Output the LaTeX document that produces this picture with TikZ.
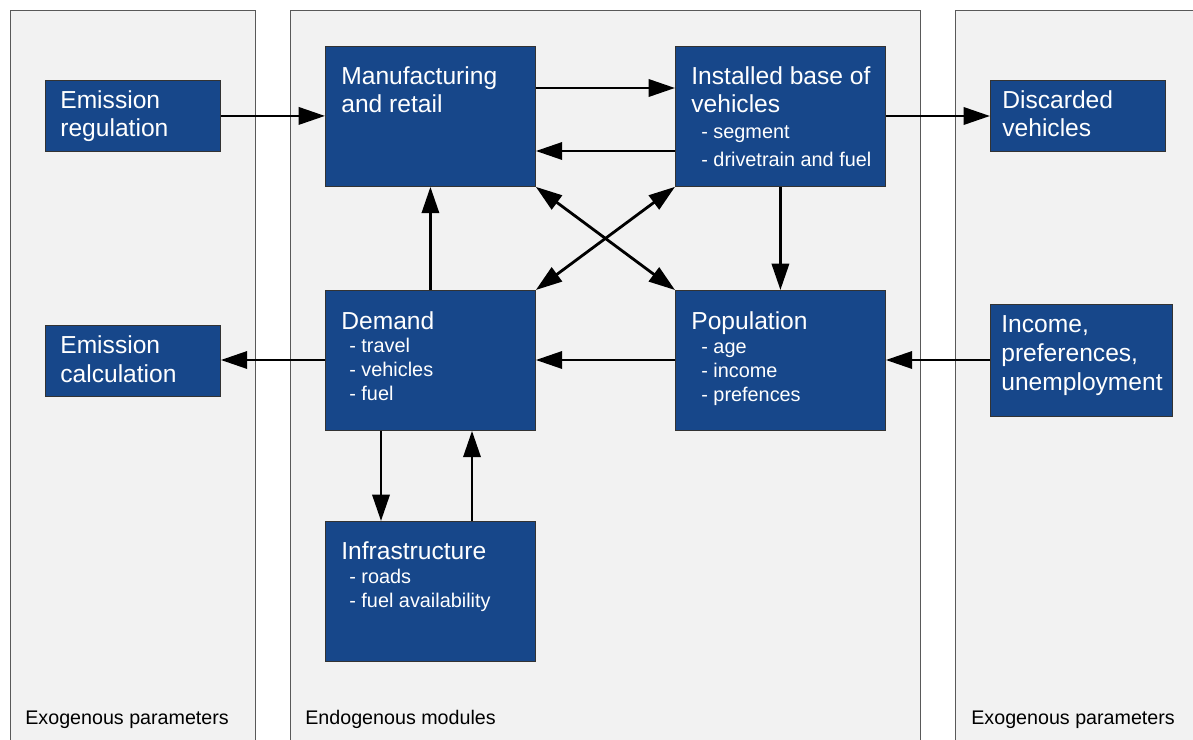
\documentclass[tikz,border=0pt]{standalone}
\usepackage{fontspec}
\setmainfont{Liberation Sans}
\usetikzlibrary{arrows.meta}
\definecolor{moduleBlue}{HTML}{17478A}
\definecolor{panelGray}{HTML}{F2F2F2}
\tikzset{
  panel/.style={draw=black!65, fill=panelGray, line width=0.5pt},
  module/.style={draw=black!80, fill=moduleBlue, anchor=north west, inner sep=0pt, line width=0.5pt},
  title/.style={anchor=base west, inner sep=0pt, yshift=-0.04cm, align=left, text=white, font=\fontsize{14}{16.4}\selectfont},
  items/.style={anchor=base west, inner sep=0pt, yshift=-0.04cm, align=left, text=white, font=\fontsize{11.3}{13.4}\selectfont},
  caption/.style={anchor=base west, inner sep=0pt, font=\fontsize{11.2}{13}\selectfont},
  flow/.style={line width=1.6pt, -{Triangle[length=15pt,width=9.8pt]}},
  both/.style={line width=1.6pt, {Triangle[length=15pt,width=9.8pt]}-{Triangle[length=15pt,width=9.8pt]}}
}

\begin{document}
\begin{tikzpicture}[x=0.02cm,y=-0.02cm]
\useasboundingbox (0,0) rectangle (1193,740);

% the three columns
\draw[panel] (10,10) rectangle (255,760);
\draw[panel] (290,10) rectangle (920,760);
\draw[panel] (955,10) rectangle (1210,760);
\node[caption] (exoLeft)  at (25,724)  {Exogenous parameters};
\node[caption] (endo)     at (305,724) {Endogenous modules};
\node[caption] (exoRight) at (971,724) {Exogenous parameters};

% module boxes
\node[module, minimum width=3.5cm, minimum height=1.42cm] (emissionRegulation)  at (45,80)   {};
\node[module, minimum width=3.5cm, minimum height=1.42cm] (emissionCalculation) at (45,325)  {};
\node[module, minimum width=4.2cm, minimum height=2.8cm]  (manufacturing)       at (325,46)  {};
\node[module, minimum width=4.2cm, minimum height=2.8cm]  (installedBase)       at (675,46)  {};
\node[module, minimum width=4.2cm, minimum height=2.8cm]  (demand)              at (325,290) {};
\node[module, minimum width=4.2cm, minimum height=2.8cm]  (population)          at (675,290) {};
\node[module, minimum width=4.2cm, minimum height=2.8cm]  (infrastructure)      at (325,521) {};
\node[module, minimum width=3.5cm, minimum height=1.42cm] (discarded)           at (990,80)  {};
\node[module, minimum width=3.64cm, minimum height=2.24cm] (income)             at (990,304) {};

% box texts (placed at the baseline of their last line)
\node[title] (emissionRegulationText)  at (60,135)   {Emission\\regulation};
\node[title] (emissionCalculationText) at (60,380)   {Emission\\calculation};
\node[title] (manufacturingText)       at (341,111)  {Manufacturing\\and retail};
\node[title] (installedBaseText)       at (691,111)  {Installed base of\\vehicles};
\node[items, font=\fontsize{11.3}{15.9}\selectfont] (installedBaseList) at (701,164) {- segment\\- drivetrain and fuel};
\node[title] (demandText)              at (341,327)  {Demand};
\node[items] (demandList)              at (349,398)  {- travel\\- vehicles\\- fuel};
\node[title] (populationText)          at (691,327)  {Population};
\node[items] (populationList)          at (701,399)  {- age\\- income\\- prefences};
\node[title] (infrastructureText)      at (341,557)  {Infrastructure};
\node[items] (infrastructureList)      at (349,605)  {- roads\\- fuel availability};
\node[title] (discardedText)           at (1002,135) {Discarded\\vehicles};
\node[title] (incomeText)              at (1001,388) {Income,\\preferences,\\unemployment};

% connectors
\draw[flow] (emissionRegulation.east) -- (emissionRegulation.east -| manufacturing.west);
\draw[flow] (manufacturing.east |- 0,88) -- (installedBase.west |- 0,88);
\draw[flow] (installedBase.west |- 0,151) -- (manufacturing.east |- 0,151);
\draw[flow] (installedBase.east |- 0,116) -- (discarded.west |- 0,116);
\draw[flow] (installedBase.south) -- (population.north);
\draw[flow] (demand.north) -- (manufacturing.south);
\draw[both] (manufacturing.south east) -- (population.north west);
\draw[both] (installedBase.south west) -- (demand.north east);
\draw[flow] (population.west |- 0,360) -- (demand.east |- 0,360);
\draw[flow] (income.west |- 0,360) -- (population.east |- 0,360);
\draw[flow] (demand.west |- 0,360) -- (emissionCalculation.east |- 0,360);
\draw[flow] (demand.south -| 381,0) -- (infrastructure.north -| 381,0);
\draw[flow] (infrastructure.north -| 472,0) -- (demand.south -| 472,0);
\end{tikzpicture}
\end{document}
